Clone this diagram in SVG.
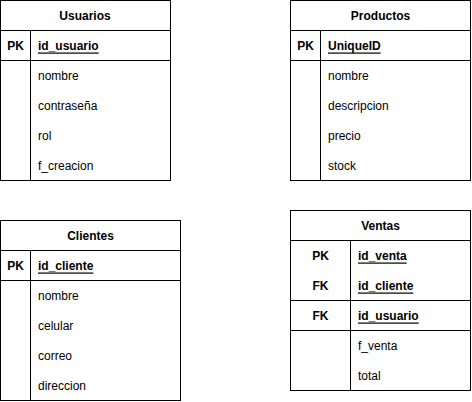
<svg xmlns="http://www.w3.org/2000/svg" width="472" height="402" viewBox="0 0 472 402">
<style>
.box{fill:#fff;stroke:#000;stroke-width:1}
.ln{stroke:#000;stroke-width:1;fill:none}
text{font-family:"Liberation Sans",Arial,Helvetica,sans-serif;font-size:12px;fill:#000;dominant-baseline:central}
.h{font-weight:bold;text-anchor:middle}
.k{font-weight:bold;text-anchor:middle}
.u{font-weight:bold;text-decoration:underline}
</style>
<rect width="472" height="402" fill="#fff"/>
<g id="connectors"></g>
<g id="usuarios">
<rect class="box" x="0.5" y="0.5" width="170" height="180"/>
<path class="ln" d="M0.5 30.5H170.5M0.5 60.5H170.5M30.5 30.5V180.5"/>
<text class="h" x="85" y="15.5">Usuarios</text>
<text class="k" x="15.5" y="45.5">PK</text>
<text class="u" x="38" y="45.5">id_usuario</text>
<text x="38" y="75.5">nombre</text>
<text x="38" y="105.5">contraseña</text>
<text x="38" y="135.5">rol</text>
<text x="38" y="165.5">f_creacion</text>
</g>
<g id="productos">
<rect class="box" x="290.5" y="0.5" width="180" height="180"/>
<path class="ln" d="M290.5 30.5H470.5M290.5 60.5H470.5M320.5 30.5V180.5"/>
<text class="h" x="380.5" y="15.5">Productos</text>
<text class="k" x="305.5" y="45.5">PK</text>
<text class="u" x="328" y="45.5">UniqueID</text>
<text x="328" y="75.5">nombre</text>
<text x="328" y="105.5">descripcion</text>
<text x="328" y="135.5">precio</text>
<text x="328" y="165.5">stock</text>
</g>
<g id="clientes">
<rect class="box" x="0.5" y="220.5" width="180" height="180"/>
<path class="ln" d="M0.5 250.5H180.5M0.5 280.5H180.5M30.5 250.5V400.5"/>
<text class="h" x="90.5" y="235.5">Clientes</text>
<text class="k" x="15.5" y="265.5">PK</text>
<text class="u" x="38" y="265.5">id_cliente</text>
<text x="38" y="295.5">nombre</text>
<text x="38" y="325.5">celular</text>
<text x="38" y="355.5">correo</text>
<text x="38" y="385.5">direccion</text>
</g>
<g id="ventas">
<rect class="box" x="290.5" y="210.5" width="180" height="180"/>
<path class="ln" d="M290.5 240.5H470.5M290.5 300.5H470.5M290.5 330.5H470.5M350.5 240.5V390.5"/>
<text class="h" x="380.5" y="225.5">Ventas</text>
<text class="k" x="320.5" y="255.5">PK</text>
<text class="u" x="358" y="255.5">id_venta</text>
<text class="k" x="320.5" y="285.5">FK</text>
<text class="u" x="358" y="285.5">id_cliente</text>
<text class="k" x="320.5" y="315.5">FK</text>
<text class="u" x="358" y="315.5">id_usuario</text>
<text x="358" y="345.5">f_venta</text>
<text x="358" y="375.5">total</text>
</g>
</svg>
